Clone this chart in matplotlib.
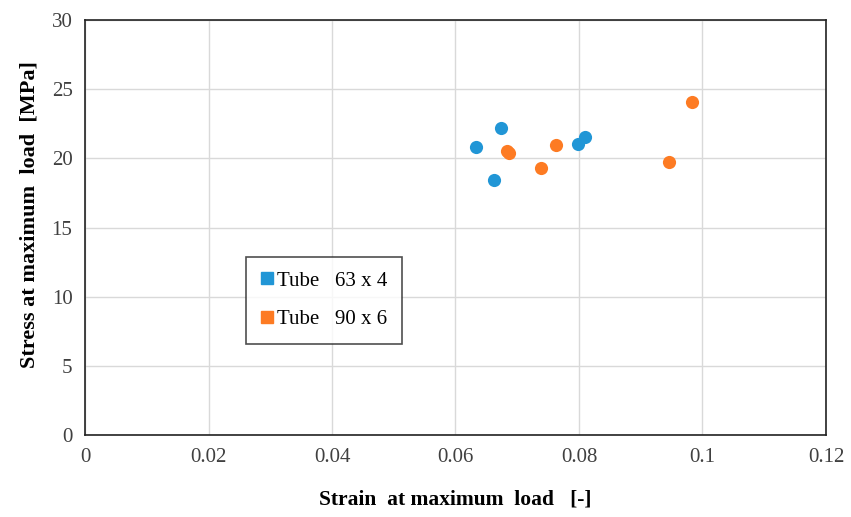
import matplotlib.pyplot as plt
from matplotlib.lines import Line2D

# Data
strain_63 = [0.0633, 0.0674, 0.0662, 0.0798, 0.0810]
stress_63 = [20.82, 22.2, 18.44, 21.06, 21.55]

strain_90 = [0.0684, 0.0686, 0.0762, 0.0738, 0.0946, 0.0983]
stress_90 = [20.55, 20.4, 20.95, 19.33, 19.72, 24.1]

blue = "#2196d6"
orange = "#fd7b23"

plt.rcParams['font.family'] = ['Liberation Serif', 'DejaVu Serif']

fig = plt.figure(figsize=(8.51, 5.17), dpi=100)
ax = fig.add_axes([0.0999, 0.1586, 0.8707, 0.8027])

ax.scatter(strain_63, stress_63, s=90, color=blue, zorder=3, linewidths=0)
ax.scatter(strain_90, stress_90, s=90, color=orange, zorder=3, linewidths=0)

ax.set_xlim(0, 0.12)
ax.set_ylim(0, 30)
ax.set_xticks([0, 0.02, 0.04, 0.06, 0.08, 0.1, 0.12])
ax.set_xticklabels(["0", "0.02", "0.04", "0.06", "0.08", "0.1", "0.12"])
ax.set_yticks(range(0, 31, 5))
ax.tick_params(labelsize=15, length=0, pad=9, colors="#404040")
ax.grid(True, color="#d9d9d9", linewidth=1)
ax.set_axisbelow(True)
for sp in ax.spines.values():
    sp.set_color("#222222")
    sp.set_linewidth(1.2)

ax.set_xlabel("Strain  at maximum  load   [-]", fontsize=15.5, fontweight="bold")
ax.set_ylabel("Stress at maximum  load  [MPa]", fontsize=16, fontweight="bold")
ax.xaxis.set_label_coords(0.5, -0.132)
ax.yaxis.set_label_coords(-0.061, 0.53)

handles = [
    Line2D([], [], marker="s", linestyle="none", color=blue, markersize=8),
    Line2D([], [], marker="s", linestyle="none", color=orange, markersize=8),
]
leg = ax.legend(handles, ["Tube   63 x 4", "Tube   90 x 6"],
                loc="upper left", bbox_to_anchor=(0.217, 0.43),
                fontsize=15, frameon=True, fancybox=False,
                handlelength=0.6, handletextpad=0.2, labelspacing=0.9,
                borderpad=0.7, borderaxespad=0)
leg.get_frame().set_edgecolor("#222222")
leg.get_frame().set_linewidth(1.2)

fig.savefig("out.png", dpi=100)
